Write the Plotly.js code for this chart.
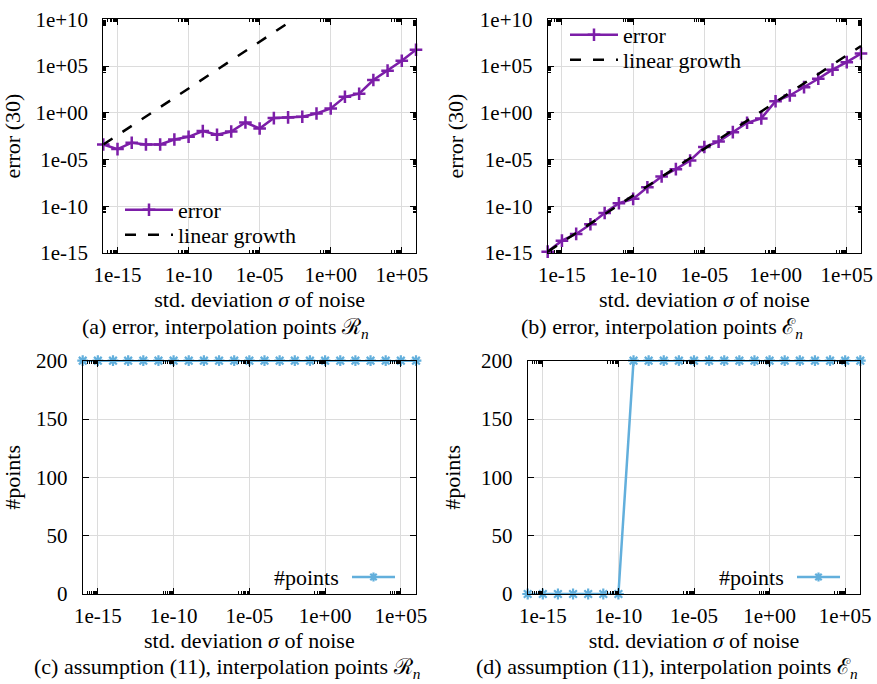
<!DOCTYPE html>
<html>
<head>
<meta charset="utf-8">
<script src="https://cdn.plot.ly/plotly-3.0.1.min.js"></script>
<style>html,body{margin:0;padding:0;background:#fff;}#plot{width:877px;height:684px;}</style>
</head>
<body>
<div id="plot"></div>
<script>
// ---- data ----
const sigma = [1e-16,1e-15,1e-14,1e-13,1e-12,1e-11,1e-10,1e-9,1e-8,1e-7,1e-6,1e-5,1e-4,1e-3,1e-2,1e-1,1,10,100,1e3,1e4,1e5,1e6];

// (a) interpolation points R_n
const errA = [4.0e-4,1.3e-4,6.3e-4,4.0e-4,4.0e-4,1.4e-3,2.7e-3,1.1e-2,4.4e-3,1.0e-2,9.1e-2,2.1e-2,2.7e-1,3.2e-1,3.7e-1,8.5e-1,2.9,51,110,3.2e3,3.2e4,3.7e5,5.6e6];
const linSigmaA = [1e-16,1e-15,1e-14,1e-13,1e-12,1e-11,1e-10,1e-9,1e-8,1e-7,1e-6,1e-5,1e-4,1e-3,1e-2];
const linA = [4e-4,4e-3,4e-2,4e-1,4,40,400,4e3,4e4,4e5,4e6,4e7,4e8,4e9,4e10];

// (b) interpolation points E_n
const errB = [1.4e-15,2.1e-14,1.1e-13,1.2e-12,1.9e-11,2.1e-10,6.2e-10,1.1e-8,1.5e-7,9.3e-7,7.8e-6,2.2e-4,8.3e-4,8.5e-3,8.5e-2,0.25,17,71,550,4.4e3,4.1e4,2.6e5,2.2e6];
const linB = [1.4e-15,1.4e-14,1.4e-13,1.4e-12,1.4e-11,1.4e-10,1.4e-9,1.4e-8,1.4e-7,1.4e-6,1.4e-5,1.4e-4,1.4e-3,1.4e-2,1.4e-1,1.4,14,140,1.4e3,1.4e4,1.4e5,1.4e6,1.4e7];

// (c), (d) number of points
const ptsC = [200,200,200,200,200,200,200,200,200,200,200,200,200,200,200,200,200,200,200,200,200,200,200];
const ptsD = [0,0,0,0,0,0,0,200,200,200,200,200,200,200,200,200,200,200,200,200,200,200,200];

// tick labels
const xTickVals = [1e-15,1e-10,1e-5,1,1e5];
const xTickText = ['1e-15','1e-10','1e-05','1e+00','1e+05'];
const yLogTickVals = [1e-15,1e-10,1e-5,1,1e5,1e10];
const yLogTickText = ['1e-15','1e-10','1e-05','1e+00','1e+05','1e+10'];
const yLinTickVals = [0,50,100,150,200];

// captions / titles
const xTitle = 'std. deviation <i>σ</i> of noise';
const yTitleErr = 'error (30)';
const yTitlePts = '#points';
const ptsLabel = '#points';
const captions = [
  '(a) error, interpolation points ℛ<sub><i>n</i></sub>',
  '(b) error, interpolation points ℰ<sub><i>n</i></sub>',
  '(c) assumption (11), interpolation points ℛ<sub><i>n</i></sub>',
  '(d) assumption (11), interpolation points ℰ<sub><i>n</i></sub>'
];

// ---- styling ----
const W = 877, H = 684;
const px = v => v / W;
const py = v => 1 - v / H;
const PURPLE = '#7c1ea8';
const BLUE = '#62afdc';
const GRID = '#dcdcdc';
const SERIF = 'Liberation Serif';

const minorX = [];
[-15,-10,-5,0,5].forEach(m => { for (let k = 2; k <= 9; k++) minorX.push(k * Math.pow(10, m - 1)); });
const minorY = [];
[-10,-5,0,5,10].forEach(m => { for (let k = 2; k <= 9; k++) minorY.push(k * Math.pow(10, m - 1)); });

const tickFont = () => ({family: SERIF, size: 21, color: '#000'});
const titleFont = () => ({family: SERIF, size: 22, color: '#000'});

function xAxis(domain, anchor) {
  return {
    domain: domain, anchor: anchor, type: 'log', range: [-16, 6],
    tickmode: 'array', tickvals: xTickVals, ticktext: xTickText,
    ticks: 'inside', ticklen: 6, tickwidth: 1, tickcolor: '#000',
    showline: true, linecolor: '#000', linewidth: 1, mirror: 'ticks',
    showgrid: true, gridcolor: GRID, gridwidth: 1, zeroline: false,
    minor: {tickmode: 'array', tickvals: minorX, ticks: 'inside', ticklen: 3, tickcolor: '#000', showgrid: false},
    tickfont: tickFont(),
    ticklabelstandoff: 3,
    title: {text: xTitle, font: titleFont(), standoff: 3},
    automargin: false, fixedrange: true
  };
}
function yLogAxis(domain, anchor) {
  return {
    domain: domain, anchor: anchor, type: 'log', range: [-15, 10],
    tickmode: 'array', tickvals: yLogTickVals, ticktext: yLogTickText,
    ticks: 'inside', ticklen: 6, tickwidth: 1, tickcolor: '#000',
    showline: true, linecolor: '#000', linewidth: 1, mirror: 'ticks',
    showgrid: true, gridcolor: GRID, gridwidth: 1, zeroline: false,
    minor: {tickmode: 'array', tickvals: minorY, ticks: 'inside', ticklen: 3, tickcolor: '#000', showgrid: false},
    tickfont: tickFont(),
    ticklabelstandoff: 10,
    title: {text: yTitleErr, font: titleFont(), standoff: 10},
    automargin: false, fixedrange: true
  };
}
function yLinAxis(domain, anchor) {
  return {
    domain: domain, anchor: anchor, type: 'linear', range: [0, 200],
    tickmode: 'array', tickvals: yLinTickVals,
    ticks: 'inside', ticklen: 6, tickwidth: 1, tickcolor: '#000',
    showline: true, linecolor: '#000', linewidth: 1, mirror: 'ticks',
    showgrid: true, gridcolor: GRID, gridwidth: 1, zeroline: false,
    tickfont: tickFont(),
    ticklabelstandoff: 10,
    title: {text: yTitlePts, font: titleFont(), standoff: 14},
    automargin: false, fixedrange: true
  };
}

const errStyle = () => ({
  mode: 'lines+markers',
  line: {color: PURPLE, width: 2.5},
  marker: {symbol: 'cross-thin', size: 9, color: PURPLE, line: {color: PURPLE, width: 2.5}},
  cliponaxis: false
});
const linStyle = () => ({mode: 'lines', line: {color: '#000', width: 2.5, dash: '11px,12px'}});
const ptsStyle = () => ({
  mode: 'lines+markers',
  line: {color: BLUE, width: 2.5},
  marker: {symbol: 'asterisk', size: 9, color: BLUE, line: {color: BLUE, width: 2.2}},
  cliponaxis: false, showlegend: false
});

const data = [
  Object.assign({x: sigma, y: errA, name: 'error', xaxis: 'x', yaxis: 'y', legend: 'legend'}, errStyle()),
  Object.assign({x: linSigmaA, y: linA, name: 'linear growth', xaxis: 'x', yaxis: 'y', legend: 'legend2'}, linStyle()),
  Object.assign({x: sigma, y: errB, name: 'error', xaxis: 'x2', yaxis: 'y2', legend: 'legend3'}, errStyle()),
  Object.assign({x: sigma, y: linB, name: 'linear growth', xaxis: 'x2', yaxis: 'y2', legend: 'legend4'}, linStyle()),
  Object.assign({x: sigma, y: ptsC, name: ptsLabel, xaxis: 'x3', yaxis: 'y3'}, ptsStyle()),
  Object.assign({x: sigma, y: ptsD, name: ptsLabel, xaxis: 'x4', yaxis: 'y4'}, ptsStyle())
];

function oneLegend(x, y) {
  return {x: px(x), y: py(y), xanchor: 'left', yanchor: 'middle', bgcolor: 'rgba(0,0,0,0)',
          borderwidth: 0, font: titleFont(), itemwidth: 48};
}

const annotations = [
  {text: captions[0], x: px(225), y: py(328), xanchor: 'center'},
  {text: captions[1], x: px(662), y: py(328), xanchor: 'center'},
  {text: captions[2], x: px(227), y: py(668), xanchor: 'center'},
  {text: captions[3], x: px(667), y: py(668), xanchor: 'center'},
  {text: ptsLabel, x: px(341), y: py(577), xanchor: 'right'},
  {text: ptsLabel, x: px(786), y: py(577), xanchor: 'right'}
].map(a => Object.assign(a, {font: titleFont(), xref: 'paper', yref: 'paper', yanchor: 'middle', showarrow: false}));

// white legend backgrounds (above grid, below traces)
const boxes = [[118,198,312,252],[548,20,755,72],[270,562,415,593],[715,562,859,593]];
const shapes = boxes.map(b => ({type: 'rect', xref: 'paper', yref: 'paper', x0: px(b[0]), y0: py(b[3]), x1: px(b[2]), y1: py(b[1]),
  fillcolor: '#ffffff', line: {width: 0}, layer: 'between'}));
// legend samples for the #points series (line + asterisk), right of the label
[[352, 395, 577], [797, 840, 577]].forEach(s => {
  shapes.push({type: 'line', xref: 'paper', yref: 'paper', x0: px(s[0]), x1: px(s[1]), y0: py(s[2]), y1: py(s[2]),
    line: {color: BLUE, width: 2.5}, layer: 'above'});
  shapes.push({type: 'path', xref: 'paper', yref: 'paper', xsizemode: 'pixel', ysizemode: 'pixel',
    xanchor: px((s[0] + s[1]) / 2), yanchor: py(s[2]),
    path: 'M-4.5,0L4.5,0M0,-4.5L0,4.5M-3.2,-3.2L3.2,3.2M-3.2,3.2L3.2,-3.2',
    line: {color: BLUE, width: 2.2}, layer: 'above'});
});

const layout = {
  width: W, height: H,
  margin: {l: 0, r: 0, t: 0, b: 0, autoexpand: false},
  paper_bgcolor: '#fff', plot_bgcolor: '#fff',
  xaxis: xAxis([px(103.3), px(416)], 'y'),
  yaxis: yLogAxis([py(253), py(19.3)], 'x'),
  xaxis2: xAxis([px(547.7), px(861)], 'y2'),
  yaxis2: yLogAxis([py(253), py(19.3)], 'x2'),
  xaxis3: xAxis([px(82.7), px(416)], 'y3'),
  yaxis3: yLinAxis([py(594), py(360.7)], 'x3'),
  xaxis4: xAxis([px(527.7), px(860.3)], 'y4'),
  yaxis4: yLinAxis([py(594), py(360.7)], 'x4'),
  legend: oneLegend(120, 210),
  legend2: oneLegend(120, 235),
  legend3: oneLegend(565, 35),
  legend4: oneLegend(565, 60),
  annotations: annotations,
  shapes: shapes,
  showlegend: true
};

Plotly.newPlot('plot', data, layout, {displayModeBar: false, staticPlot: true});
</script>
</body>
</html>
